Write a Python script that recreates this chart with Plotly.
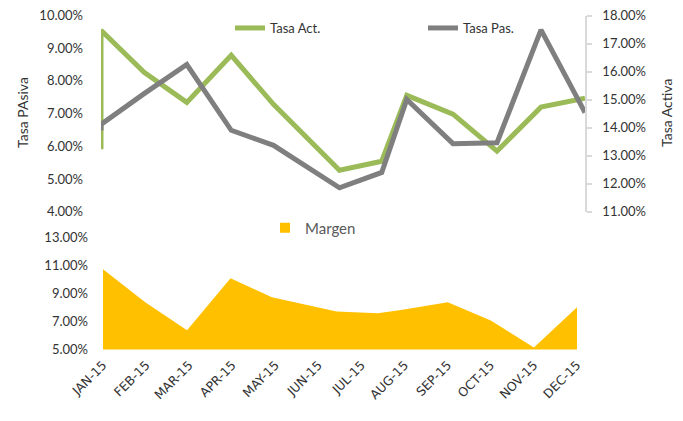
import plotly.graph_objects as go

# ---- data ----
month_labels = ["JAN-15", "FEB-15", "MAR-15", "APR-15", "MAY-15", "JUN-15",
                "JUL-15", "AUG-15", "SEP-15", "OCT-15", "NOV-15", "DEC-15"]
month_ticks = list(range(12))

# observation positions (in months from JAN-15)
line_pos = [0, 0, 0.98, 1.95, 2.96, 3.92, 5.42, 6.38, 6.95, 8.0, 9.0, 10.0, 11.0]
tasa_act = [13.23, 17.47, 15.97, 14.90, 16.58, 14.83, 12.48, 12.80, 15.15, 14.48, 13.16, 14.73, 15.05]
tasa_pas = [6.48, 6.67, 7.61, 8.50, 6.49, 6.03, 4.73, 5.20, 7.43, 6.08, 6.11, 9.56, 7.03]

margen_pos = [0, 0.98, 1.95, 2.96, 3.92, 5.42, 6.38, 6.95, 8.0, 9.0, 10.0, 11.0]
margen = [10.71, 8.36, 6.36, 10.07, 8.71, 7.71, 7.57, 7.82, 8.36, 7.07, 5.14, 8.00]

GREEN = "#9BBB59"
GRAY = "#7F7F7F"
GOLD = "#FFC000"
TXT = "#333333"
FONT = "Lato"

fig = go.Figure()

fig.add_trace(go.Scatter(x=line_pos, y=tasa_act, name="Tasa Act.", mode="lines",
                         line=dict(color=GREEN, width=5), xaxis="x", yaxis="y",
                         legend="legend"))
fig.add_trace(go.Scatter(x=line_pos, y=tasa_pas, name="Tasa Pas.", mode="lines",
                         line=dict(color=GRAY, width=5), xaxis="x", yaxis="y2",
                         legend="legend"))
fig.add_trace(go.Scatter(x=margen_pos, y=margen, name="Margen", mode="lines",
                         fill="tozeroy", fillcolor=GOLD, line=dict(color=GOLD, width=0),
                         xaxis="x2", yaxis="y3", showlegend=False))
# legend proxy for the area
fig.add_trace(go.Scatter(x=[None], y=[None], name="Margen", mode="markers",
                         marker=dict(symbol="square", size=10, color=GOLD),
                         xaxis="x2", yaxis="y3", legend="legend2"))

# page body has an 8px margin; figure is sized to fit the 683x421 window
OFF = 8
W, H = 683 - OFF, 421 - OFF
def fx(p):
    return (p - OFF) / W
def fy(p):
    return 1 - (p - OFF) / H
def px_x(a, b):
    return [fx(a), fx(b)]
def px_y(top, bottom):
    return [fy(bottom), fy(top)]

fig.update_layout(
    width=W, height=H,
    margin=dict(l=0, r=0, t=0, b=0, autoexpand=False),
    paper_bgcolor="white", plot_bgcolor="rgba(0,0,0,0)",
    font=dict(family=FONT, size=13, color=TXT),
    xaxis=dict(domain=px_x(101, 585), range=[0, 11], showticklabels=False,
               showgrid=False, zeroline=False, showline=False, ticks="",
               anchor="y", automargin=False),
    yaxis=dict(domain=px_y(15.5, 211.7), range=[11, 18], dtick=1, tick0=11,
               side="right", anchor="x", automargin=False, ticklabeloverflow="allow",
               tickformat=".2f", ticksuffix="%", showgrid=False,
               zeroline=False, showline=True, linecolor="#D9D9D9", linewidth=1.5,
               ticks="outside", ticklen=5, tickcolor="#D9D9D9", tickwidth=1.5,
               ticklabelstandoff=8, tickfont=dict(size=13, color=TXT)),
    yaxis2=dict(range=[4, 10], dtick=1, tick0=4, overlaying="y", side="left",
                anchor="x", automargin=False, ticklabeloverflow="allow",
                tickformat=".2f", ticksuffix="%", showgrid=False, zeroline=False,
                showline=False, ticks="", ticklabelstandoff=17,
                tickfont=dict(size=13, color=TXT)),
    xaxis2=dict(domain=px_x(103, 577), range=[0, 11], anchor="y3", automargin=False,
                tickmode="array", tickvals=month_ticks, ticktext=month_labels,
                tickangle=-45, showgrid=False, zeroline=False, showline=False,
                ticks="", ticklabelstandoff=5, ticklabeloverflow="allow",
                tickfont=dict(family="DejaVu Sans", size=12.5, color=TXT)),
    yaxis3=dict(domain=px_y(237, 349.5), range=[5, 13], dtick=2, tick0=5,
                anchor="x2", automargin=False, ticklabeloverflow="allow",
                tickformat=".2f", ticksuffix="%", showgrid=False, zeroline=False,
                showline=False, ticks="", ticklabelstandoff=14,
                tickfont=dict(size=13, color=TXT)),
    legend=dict(orientation="h", x=fx(230), xanchor="left", y=fy(28),
                yanchor="middle", font=dict(size=13, color=TXT),
                entrywidth=148, entrywidthmode="pixels",
                bgcolor="rgba(0,0,0,0)", traceorder="normal"),
    legend2=dict(orientation="h", x=fx(265), xanchor="left", y=fy(228),
                 yanchor="middle", font=dict(size=15, color="#595959"),
                 bgcolor="rgba(0,0,0,0)"),
    showlegend=True,
    annotations=[
        dict(text="Tasa PAsiva", x=fx(22), y=fy(113), xref="paper", yref="paper",
             textangle=-90, showarrow=False, font=dict(size=14, color=TXT),
             xanchor="center", yanchor="middle"),
        dict(text="Tasa Activa", x=fx(666), y=fy(113), xref="paper", yref="paper",
             textangle=-90, showarrow=False, font=dict(size=14, color=TXT),
             xanchor="center", yanchor="middle"),
    ],
)

fig.write_html("out.html")
